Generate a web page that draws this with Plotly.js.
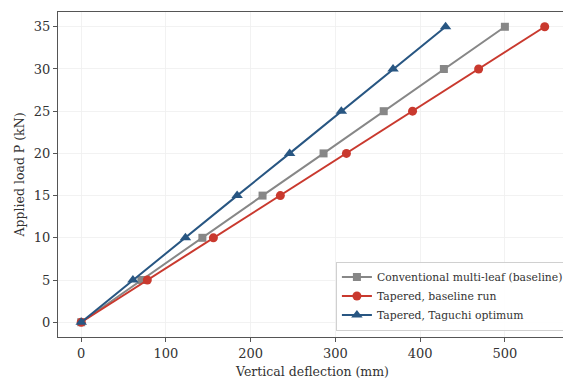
<!DOCTYPE html>
<html>
<head>
<meta charset="utf-8">
<script src="https://cdn.plot.ly/plotly-3.0.1.min.js"></script>
<style>
html,body{margin:0;padding:0;overflow:hidden;background:#fff;}
#chart{width:570px;height:379px;}
</style>
</head>
<body>
<div id="chart"></div>
<script>
const loads = [0, 5, 10, 15, 20, 25, 30, 35];
const conventional = [0, 71, 143, 214, 286, 357, 428, 500];
const taperedBaseline = [0, 78, 156, 235, 313, 391, 469, 547];
const taperedTaguchi = [0, 61, 123, 184, 246, 307, 368, 430];
const seriesNames = ["Conventional multi-leaf (baseline)", "Tapered, baseline run", "Tapered, Taguchi optimum"];
const xTicks = [0, 100, 200, 300, 400, 500];
const yTicks = [0, 5, 10, 15, 20, 25, 30, 35];

const font = "DejaVu Serif, serif";
const traces = [
  {x: conventional, y: loads, name: seriesNames[0], mode: "lines+markers",
   line: {color: "#878787", width: 2}, marker: {symbol: "square", size: 8, color: "#878787"}},
  {x: taperedBaseline, y: loads, name: seriesNames[1], mode: "lines+markers",
   line: {color: "#c9392e", width: 2}, marker: {symbol: "circle", size: 9, color: "#c9392e"}},
  {x: taperedTaguchi, y: loads, name: seriesNames[2], mode: "lines+markers",
   line: {color: "#285682", width: 2}, marker: {symbol: "triangle-up", size: 10, color: "#285682"}}
];
const layout = {
  width: 570, height: 379,
  margin: {l: 57.5, r: 3, t: 12, b: 42.3, autoexpand: false},
  paper_bgcolor: "#fff", plot_bgcolor: "#fff",
  font: {family: font, color: "#333", size: 12},
  showlegend: true,
  legend: {x: 0.546, y: 0.02, xanchor: "left", yanchor: "bottom",
    bgcolor: "rgba(255,255,255,0.9)", bordercolor: "#d0d0d0", borderwidth: 1,
    font: {family: font, size: 10.8, color: "#333"}, tracegroupgap: 0},
  xaxis: {range: [-27.4, 573.3], tickvals: xTicks, ticktext: xTicks.map(String),
    showline: true, linecolor: "#555", linewidth: 1.2, mirror: true,
    ticks: "outside", ticklen: 4, tickcolor: "#555", automargin: false,
    showgrid: true, gridcolor: "#efefef", gridwidth: 0.8, zeroline: false,
    tickfont: {size: 13, color: "#333"},
    title: {text: "Vertical deflection (mm)", font: {size: 12.5, color: "#333"}, standoff: 7}},
  yaxis: {range: [-1.75, 36.75], tickvals: yTicks, ticktext: yTicks.map(String),
    showline: true, linecolor: "#555", linewidth: 1.2, mirror: true,
    ticks: "outside", ticklen: 4, tickcolor: "#555", automargin: false,
    showgrid: true, gridcolor: "#efefef", gridwidth: 0.8, zeroline: false,
    tickfont: {size: 13, color: "#333"},
    title: {text: "Applied load P (kN)", font: {size: 12.5, color: "#333"}, standoff: 6}}
};
Plotly.newPlot("chart", traces, layout, {displayModeBar: false, staticPlot: true});
</script>
</body>
</html>
